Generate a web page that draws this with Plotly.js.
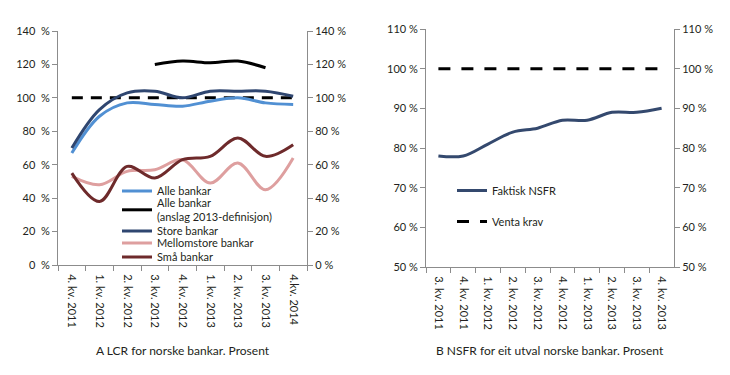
<!DOCTYPE html>
<html>
<head>
<meta charset="utf-8">
<script src="https://cdn.plot.ly/plotly-3.0.1.min.js"></script>
<style>html,body{margin:0;padding:0;background:#fff}#chart{width:730px;height:375px}</style>
</head>
<body>
<div id="chart"></div>
<script>
// ---- Panel A: LCR ----
const lcrQuarters = ["4. kv. 2011","1. kv. 2012","2. kv. 2012","3. kv. 2012","4. kv. 2012","1. kv. 2013","2. kv. 2013","3. kv. 2013","4.kv. 2014"];
const alleBankar      = [67, 89, 97, 96, 95, 98, 100, 97, 96];
const alleAnslag2013  = [null, null, null, 120, 122, 121, 122, 118, null];
const storeBankar     = [70, 93, 103, 104, 100, 104, 104, 104, 101];
const mellomstore     = [53, 48, 56, 57, 63, 49, 61, 45, 64];
const smaBankar       = [55, 38, 59, 52, 63, 65, 76, 65, 72];
const lcrKrav         = [100, 100, 100, 100, 100, 100, 100, 100, 100];
const lcrTickVals     = [0, 20, 40, 60, 80, 100, 120, 140];

// ---- Panel B: NSFR ----
const nsfrQuarters = ["3. kv. 2011","4. kv. 2011","1. kv. 2012","2. kv. 2012","3. kv. 2012","4. kv. 2012","1. kv. 2013","2. kv. 2013","3. kv. 2013","4. kv. 2013"];
const faktiskNSFR  = [78, 78, 81, 84, 85, 87, 87, 89, 89, 90];
const ventaKrav    = [100, 100, 100, 100, 100, 100, 100, 100, 100, 100];
const nsfrTickVals = [50, 60, 70, 80, 90, 100, 110];

const FONT = "Lato, 'Open Sans', sans-serif";
const TXT = "#231f20";
const AX = "#8c8c8c";

function ln(x, y, name, color, opts) {
  return Object.assign({
    type: "scatter", mode: "lines", x: x, y: y, name: name,
    line: {color: color, width: 3, shape: "spline", smoothing: 1},
    hoverinfo: "skip", connectgaps: false
  }, opts || {});
}

const traces = [
  ln(lcrQuarters, lcrKrav, "Krav", "#000", {line: {color: "#000", width: 3, dash: "11px,8px"}, showlegend: false, xaxis: "x", yaxis: "y"}),
  ln(lcrQuarters, alleBankar, "Alle bankar", "#5190d3", {xaxis: "x", yaxis: "y", legend: "legend"}),
  ln(lcrQuarters, alleAnslag2013, "Alle bankar<br>(anslag 2013-definisjon)", "#000000", {xaxis: "x", yaxis: "y", legend: "legend3"}),
  ln(lcrQuarters, storeBankar, "Store bankar", "#2f4670", {xaxis: "x", yaxis: "y", legend: "legend4"}),
  ln(lcrQuarters, mellomstore, "Mellomstore bankar", "#de9f9f", {xaxis: "x", yaxis: "y", legend: "legend5"}),
  ln(lcrQuarters, smaBankar, "Små bankar", "#6e2a2b", {xaxis: "x", yaxis: "y", legend: "legend6"}),
  ln(lcrQuarters, lcrKrav, "", "rgba(0,0,0,0)", {showlegend: false, xaxis: "x", yaxis: "y2", line: {width: 0, color: "rgba(0,0,0,0)"}}),

  ln(nsfrQuarters, faktiskNSFR, "Faktisk NSFR", "#34496e", {xaxis: "x2", yaxis: "y3", legend: "legend2", legendgroup: "a"}),
  ln(nsfrQuarters, ventaKrav, "Venta krav", "#000", {line: {color: "#000", width: 3, dash: "12px,11px"}, xaxis: "x2", yaxis: "y3", legend: "legend2", legendgroup: "b"}),
  ln(nsfrQuarters, ventaKrav, "", "rgba(0,0,0,0)", {showlegend: false, xaxis: "x2", yaxis: "y4", line: {width: 0, color: "rgba(0,0,0,0)"}})
];

const yDomA = [(375-265)/375, (375-31)/375];
const yDomB = [(375-267)/375, (375-29)/375];

const xCommon = {
  type: "category", showgrid: false, zeroline: false,
  showline: true, linecolor: AX, linewidth: 1,
  ticks: "outside", ticklen: 5, tickcolor: AX, tickson: "boundaries",
  tickangle: 90, ticklabelstandoff: 6, tickfont: {family: FONT, size: 11, color: TXT}
};
const yCommon = {
  showgrid: false, zeroline: false, showline: true, linecolor: AX, linewidth: 1,
  ticks: "outside", ticklen: 5, tickcolor: AX,
  tickfont: {family: FONT, size: 11, color: TXT}
};

function leg(xpx, ypx) {
  return {x: xpx/730, y: (375-ypx)/375, xanchor: "left", yanchor: "middle",
    bgcolor: "rgba(0,0,0,0)", borderwidth: 0, font: {family: FONT, size: 11, color: TXT},
    tracegroupgap: 0, itemwidth: 30};
}

const layout = {
  width: 730, height: 375,
  margin: {l: 0, r: 0, t: 0, b: 0},
  paper_bgcolor: "#fff", plot_bgcolor: "rgba(0,0,0,0)",
  font: {family: FONT, size: 11, color: TXT},
  xaxis: Object.assign({}, xCommon, {domain: [58/730, 307/730], anchor: "y", range: [-0.5, 8.5]}),
  yaxis: Object.assign({}, yCommon, {domain: yDomA, anchor: "x", range: [0, 140],
    tickvals: lcrTickVals, ticktext: lcrTickVals.map(v => v + "\u00a0 %")}),
  yaxis2: Object.assign({}, yCommon, {overlaying: "y", side: "right", anchor: "x", range: [0, 140],
    tickvals: lcrTickVals, ticktext: lcrTickVals.map(v => v + " %")}),
  xaxis2: Object.assign({}, xCommon, {domain: [426/730, 674/730], anchor: "y3", range: [-0.5, 9.5]}),
  yaxis3: Object.assign({}, yCommon, {domain: yDomB, anchor: "x2", range: [50, 110],
    tickvals: nsfrTickVals, ticktext: nsfrTickVals.map(v => v + " %")}),
  yaxis4: Object.assign({}, yCommon, {overlaying: "y3", side: "right", anchor: "x2", range: [50, 110],
    tickvals: nsfrTickVals, ticktext: nsfrTickVals.map(v => v + " %")}),
  legend: leg(117, 191),
  legend3: leg(117, 210),
  legend4: leg(117, 231),
  legend5: leg(117, 243),
  legend6: leg(117, 257),
  legend2: Object.assign(leg(452, 206), {tracegroupgap: 12}),
  annotations: [
    {text: "A LCR for norske bankar. Prosent", xref: "paper", yref: "paper",
     x: 183/730, y: (375-350)/375, xanchor: "center", yanchor: "middle", showarrow: false,
     font: {family: FONT, size: 12, color: TXT}},
    {text: "B NSFR for eit utval norske bankar. Prosent", xref: "paper", yref: "paper",
     x: 550/730, y: (375-350)/375, xanchor: "center", yanchor: "middle", showarrow: false,
     font: {family: FONT, size: 12, color: TXT}}
  ],
  showlegend: true
};

Plotly.newPlot("chart", traces, layout, {displayModeBar: false, staticPlot: true});
</script>
</body>
</html>
